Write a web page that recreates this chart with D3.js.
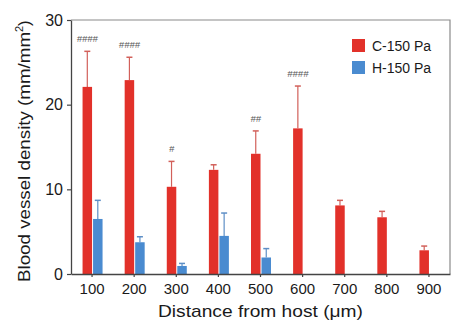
<!DOCTYPE html>
<html>
<head>
<meta charset="utf-8">
<script src="https://cdn.jsdelivr.net/npm/d3@7"></script>
<style>
  html, body { margin: 0; padding: 0; background: #ffffff; }
  svg { display: block; font-family: "Liberation Sans", Arial, sans-serif; }
</style>
</head>
<body>
<svg id="chart" width="467" height="330"></svg>
<script>
// Distance bins (µm) along the x axis
const distances = ["100", "200", "300", "400", "500", "600", "700", "800", "900"];
// Mean blood vessel density (mm/mm²) and upper error bound for each group
const cMeans = [22.1, 22.9, 10.3, 12.3, 14.2, 17.2, 8.1, 6.7, 2.8];
const cErr   = [26.3, 25.6, 13.3, 12.9, 16.9, 22.2, 8.7, 7.4, 3.3];
const hMeans = [6.5, 3.75, 0.95, 4.5, 1.95, null, null, null, null];
const hErr   = [8.7, 4.4, 1.25, 7.2, 3.0, null, null, null, null];
// Significance marks above the C-150 Pa bars
const sigMarks = ["####", "####", "#", "", "##", "####", "", "", ""];
const seriesNames = ["C-150 Pa", "H-150 Pa"];
const yTicks = [0, 10, 20, 30];

const colors = ["#e2312a", "#4a8bd0"];
const errColors = ["#d2605a", "#5e8fc6"];

const svg = d3.select("#chart");
const margin = { left: 71, right: 17, top: 20, bottom: 56 };
const W = 467, H = 330;
const iw = W - margin.left - margin.right;
const ih = H - margin.top - margin.bottom;

const g = svg.append("g").attr("transform", `translate(${margin.left},${margin.top})`);

const x = d3.scaleBand().domain(distances).range([0, iw]).padding(0);
const y = d3.scaleLinear().domain([0, 30]).range([ih, 0]);

// frame (top and right)
g.append("path")
  .attr("d", `M0,0H${iw}V${ih}`)
  .attr("fill", "none").attr("stroke", "#8a8a8a").attr("stroke-width", 1.2);

const barW = 9.5, gap = 1;
const series = [
  { means: cMeans, err: cErr, off: -barW - gap / 2 + 0.5 },
  { means: hMeans, err: hErr, off: gap / 2 + 0.5 }
];

series.forEach((s, si) => {
  const data = distances.map((d, i) => ({ d, v: s.means[i], e: s.err[i] })).filter(o => o.v != null);
  const cx = o => x(o.d) + x.bandwidth() / 2 + s.off;
  // error bars (upper only)
  g.selectAll(null).data(data).enter().append("line")
    .attr("x1", o => cx(o) + barW / 2).attr("x2", o => cx(o) + barW / 2)
    .attr("y1", o => y(o.v)).attr("y2", o => y(o.e))
    .attr("stroke", errColors[si]).attr("stroke-width", 1.2);
  g.selectAll(null).data(data).enter().append("line")
    .attr("x1", o => cx(o) + barW / 2 - 3).attr("x2", o => cx(o) + barW / 2 + 3)
    .attr("y1", o => y(o.e)).attr("y2", o => y(o.e))
    .attr("stroke", errColors[si]).attr("stroke-width", 1.5);
  // bars
  g.selectAll(null).data(data).enter().append("rect")
    .attr("x", o => cx(o)).attr("width", barW)
    .attr("y", o => y(o.v)).attr("height", o => y(0) - y(o.v))
    .attr("fill", colors[si]);
});

// significance marks
g.selectAll(null).data(distances.map((d, i) => ({ d, m: sigMarks[i], e: cErr[i] })).filter(o => o.m))
  .enter().append("text")
  .attr("x", o => x(o.d) + x.bandwidth() / 2 + series[0].off + barW / 2)
  .attr("y", o => y(o.e) - 9)
  .attr("text-anchor", "middle")
  .attr("font-size", 9.5).attr("font-style", "italic")
  .attr("fill", "#555")
  .text(o => o.m);

// axes
const xAxis = g.append("g").attr("transform", `translate(0,${ih})`)
  .call(d3.axisBottom(x).tickSize(3).tickSizeOuter(0));
const yAxis = g.append("g")
  .call(d3.axisLeft(y).tickValues(yTicks).tickSize(4).tickSizeOuter(0));
[xAxis, yAxis].forEach(a => {
  a.select(".domain").attr("stroke", "#444").attr("stroke-width", 1.3);
  a.selectAll(".tick line").attr("stroke", "#444").attr("stroke-width", 1.2);
  a.selectAll("text").attr("fill", "#1a1a1a").attr("font-family", "Liberation Sans, Arial, sans-serif");
});
xAxis.selectAll("text").attr("font-size", 15).attr("dy", "0.95em");
yAxis.selectAll("text").attr("font-size", 16).attr("dx", "-1px");

// axis titles
svg.append("text")
  .attr("x", 158).attr("y", 317)
  .attr("font-size", 17).attr("fill", "#1a1a1a")
  .attr("textLength", 205).attr("lengthAdjust", "spacingAndGlyphs")
  .text("Distance from host (μm)");

const yt = svg.append("text")
  .attr("transform", "translate(30,282) rotate(-90)")
  .attr("font-size", 17).attr("fill", "#1a1a1a");
yt.append("tspan").attr("textLength", 250).attr("lengthAdjust", "spacingAndGlyphs")
  .text("Blood vessel density (mm/mm");
yt.append("tspan").attr("dy", -7).attr("font-size", 11).text("2");
yt.append("tspan").attr("dy", 7).text(")");

// legend
const lg = svg.append("g").attr("transform", "translate(352,39)");
seriesNames.forEach((n, i) => {
  lg.append("rect").attr("x", 0).attr("y", i * 22).attr("width", 13).attr("height", 13).attr("fill", colors[i]);
  lg.append("text").attr("x", 20).attr("y", i * 22 + 11.5).attr("font-size", 14).attr("fill", "#1a1a1a").text(n);
});
</script>
</body>
</html>
